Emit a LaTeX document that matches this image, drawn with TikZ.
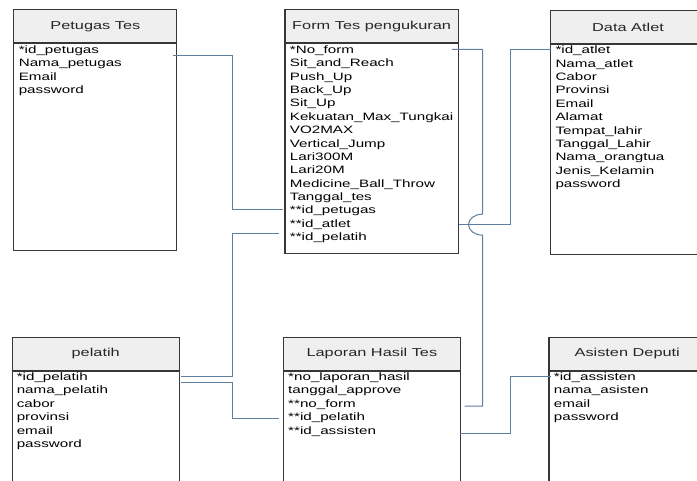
\documentclass[tikz,border=0pt]{standalone}
\usepackage{fontspec}
\setmainfont{Liberation Sans}[FakeStretch=1.42]
\usetikzlibrary{calc}
\definecolor{linkblue}{RGB}{96,126,158}
\definecolor{hdrgray}{RGB}{239,239,239}
\definecolor{edgegray}{RGB}{55,55,55}

\begin{document}
\begin{tikzpicture}[x=1pt,y=-1pt,
  hdr/.style={draw=edgegray, fill=hdrgray, line width=1.1pt, anchor=north west,
    inner sep=0pt, font=\fontsize{11.5}{13}\selectfont, text=black!85},
  tbody/.style={draw=edgegray, fill=white, line width=1.1pt, anchor=north west, inner sep=0pt},
  field/.style={anchor=base west, inner sep=0pt, text height=8pt, text depth=0pt,
    font=\fontsize{10.7}{13.38}\selectfont, text=black},
  link/.style={draw=linkblue, line width=1pt}]

\path[use as bounding box] (0,0) rectangle (697,481);
\clip (0,0) rectangle (697,481);

% ---------- Petugas Tes ----------
\node[hdr, minimum width=163pt, minimum height=33pt] (pt-h) at (13.3,9.3) {Petugas Tes};
\node[tbody, minimum width=163pt, minimum height=206.7pt] (pt-b) at (pt-h.south west) {};
\foreach \t [count=\i] in {*id\_petugas, Nama\_petugas, Email, password}
  \node[field] (pt-\i) at ($(pt-h.south west)+(5.3,10+13.38*\i-13.38)$) {\t};

% ---------- Form Tes pengukuran ----------
\node[hdr, minimum width=173.4pt, minimum height=33pt] (f-h) at (284.4,9.3) {Form Tes pengukuran};
\node[tbody, minimum width=173.4pt, minimum height=209.4pt] (f-b) at (f-h.south west) {};
\foreach \t [count=\i] in {*No\_form, Sit\_and\_Reach, Push\_Up, Back\_Up, Sit\_Up,
    Kekuatan\_Max\_Tungkai, VO2MAX, Vertical\_Jump, Lari300M, Lari20M,
    Medicine\_Ball\_Throw, Tanggal\_tes, **id\_petugas, **id\_atlet, **id\_pelatih}
  \node[field] (f-\i) at ($(f-h.south west)+(5.3,10+13.38*\i-13.38)$) {\t};

% ---------- Data Atlet ----------
\node[hdr, minimum width=155pt, minimum height=32.7pt] (da-h) at (550,10) {Data Atlet};
\node[tbody, minimum width=155pt, minimum height=210pt] (da-b) at (da-h.south west) {};
\foreach \t [count=\i] in {*id\_atlet, Nama\_atlet, Cabor, Provinsi, Email, Alamat,
    Tempat\_lahir, Tanggal\_Lahir, Nama\_orangtua, Jenis\_Kelamin, password}
  \node[field] (da-\i) at ($(da-h.south west)+(5.3,10+13.38*\i-13.38)$) {\t};

% ---------- pelatih ----------
\node[hdr, minimum width=167.1pt, minimum height=33.3pt] (pl-h) at (11.6,336.7) {pelatih};
\node[tbody, minimum width=167.1pt, minimum height=130pt] (pl-b) at (pl-h.south west) {};
\foreach \t [count=\i] in {*id\_pelatih, nama\_pelatih, cabor, provinsi, email, password}
  \node[field] (pl-\i) at ($(pl-h.south west)+(5,9.5+13.38*\i-13.38)$) {\t};

% ---------- Laporan Hasil Tes ----------
\node[hdr, minimum width=177.3pt, minimum height=33.3pt] (lp-h) at (282.7,336.7) {Laporan Hasil Tes};
\node[tbody, minimum width=177.3pt, minimum height=130pt] (lp-b) at (lp-h.south west) {};
\foreach \t [count=\i] in {*no\_laporan\_hasil, tanggal\_approve, **no\_form, **id\_pelatih, **id\_assisten}
  \node[field] (lp-\i) at ($(lp-h.south west)+(5.3,9.5+13.38*\i-13.38)$) {\t};

% ---------- Asisten Deputi ----------
\node[hdr, minimum width=156.6pt, minimum height=33.3pt] (as-h) at (548.4,336.7) {Asisten Deputi};
\node[tbody, minimum width=156.6pt, minimum height=130pt] (as-b) at (as-h.south west) {};
\foreach \t [count=\i] in {*id\_assisten, nama\_asisten, email, password}
  \node[field] (as-\i) at ($(as-h.south west)+(5.3,9.5+13.38*\i-13.38)$) {\t};

% ---------- relationship lines ----------
\coordinate (bus-a) at (232,0);
\coordinate (bus-b) at (482.5,0);
\coordinate (bus-c) at (510.5,0);

% id_petugas
\coordinate (p1) at ($(pt-1.base -| pt-b.east)+(-4,2)$);
\coordinate (q1) at ($(f-13.base -| f-b.west)+(-1,-4)$);
\draw[link] (p1) -- (p1 -| bus-a) -- (bus-a |- q1) -- (q1);

% id_pelatih -> form
\coordinate (p2) at ($(pl-1.base -| pl-b.east)+(1.3,-4)$);
\coordinate (q2) at ($(f-15.base -| f-b.west)+(-5,-7)$);
\draw[link] (p2) -- (p2 -| bus-a) -- (bus-a |- q2) -- (q2);

% id_pelatih -> laporan
\coordinate (p3) at ($(pl-1.base -| pl-b.east)+(1.3,1.5)$);
\coordinate (q3) at ($(lp-4.base -| lp-b.west)+(-4,-2.3)$);
\draw[link] (p3) -- (p3 -| bus-a) -- (bus-a |- q3) -- (q3);

% id_atlet
\coordinate (p5) at ($(da-1.base -| da-b.west)+(1,-4)$);
\coordinate (q5) at ($(f-14.base -| f-b.east)+(0,-2.7)$);
\draw[link] (p5) -- (p5 -| bus-c) -- (bus-c |- q5) -- (q5);

% no_form, hopping over the id_atlet line
\coordinate (p4) at ($(f-1.base -| f-b.east)+(-7,-4)$);
\coordinate (q4) at ($(lp-3.base -| lp-b.east)+(3.6,-1.3)$);
\coordinate (hop) at ($(bus-b |- q5)+(0,-10.5)$);
\draw[link] (p4) -- (p4 -| bus-b) -- (hop)
  arc[start angle=90, end angle=270, x radius=14pt, y radius=10.5pt]
  -- (bus-b |- q4) -- (q4);

% id_assisten
\coordinate (p6) at ($(as-1.base -| as-b.west)+(2.6,-4)$);
\coordinate (q6) at ($(lp-5.base -| lp-b.east)+(-1.3,-0.7)$);
\draw[link] (p6) -- (p6 -| bus-c) -- (bus-c |- q6) -- (q6);
\end{tikzpicture}
\end{document}
